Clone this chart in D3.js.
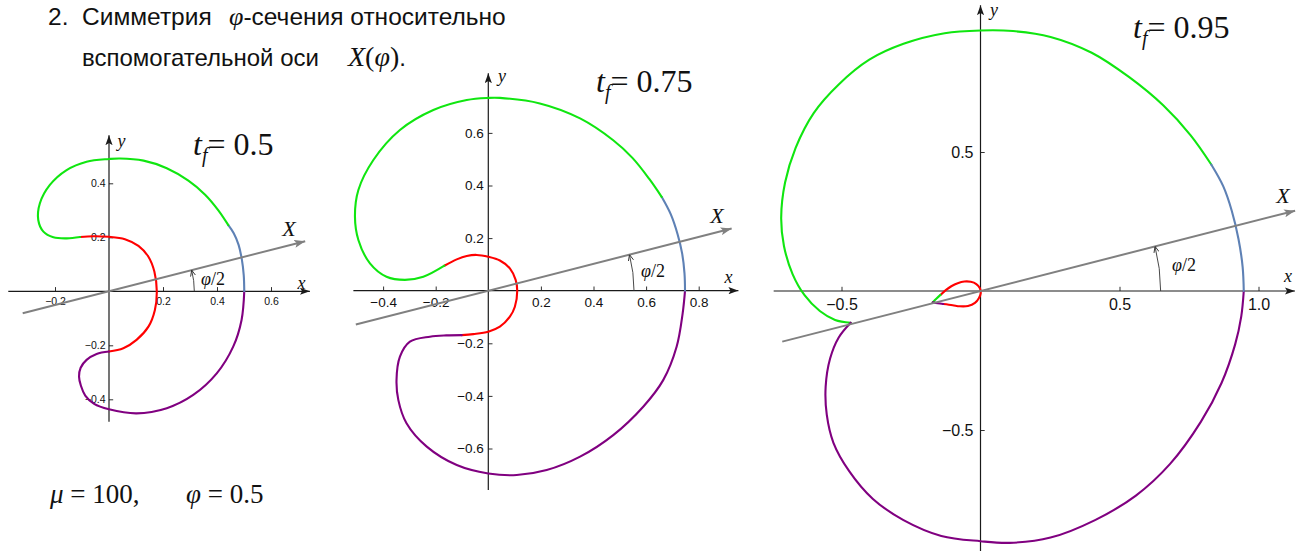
<!DOCTYPE html>
<html><head><meta charset="utf-8">
<script src="https://cdn.jsdelivr.net/npm/d3@7"></script>
<style>
html,body{margin:0;padding:0;background:#fff;}
svg{display:block;}
</style></head><body>
<svg id="chart" width="1296" height="551"></svg>
<script>
// ---- phi-section curves, sampled as (x, y), split by colour ----
// t_f = 0.5
const tf05Red = [[-0.107,0.201],[-0.058,0.204],[0,0.202],[0.059,0.193],[0.109,0.168],[0.146,0.128],[0.168,0.073],[0.177,0],[0.170,-0.069],[0.146,-0.131],[0.102,-0.180],[0.053,-0.211],[0,-0.223]];
const tf05Purple = [[0,-0.223],[-0.046,-0.232],[-0.083,-0.254],[-0.105,-0.283],[-0.111,-0.316],[-0.104,-0.350],[-0.088,-0.386],[-0.055,-0.417],[0,-0.437],[0.102,-0.452],[0.214,-0.433],[0.312,-0.384],[0.399,-0.304],[0.460,-0.205],[0.491,-0.106],[0.501,0]];
const tf05Blue = [[0.501,0],[0.499,0.060],[0.492,0.118],[0.480,0.172],[0.462,0.215],[0.442,0.245]];
const tf05Green = [[0.442,0.245],[0.405,0.300],[0.356,0.358],[0.294,0.410],[0.214,0.456],[0.128,0.484],[0.041,0.492],[0,0.490],[-0.083,0.480],[-0.157,0.449],[-0.219,0.394],[-0.256,0.326],[-0.262,0.264],[-0.243,0.221],[-0.206,0.200],[-0.156,0.196],[-0.107,0.201]];

// t_f = 0.75
const tf075Red = [[-0.167,0.095],[-0.120,0.119],[-0.082,0.132],[-0.044,0.136],[0,0.129],[0.044,0.115],[0.082,0.085],[0.104,0.041],[0.110,0],[0.101,-0.061],[0.082,-0.099],[0.044,-0.137],[0,-0.156],[-0.057,-0.165],[-0.101,-0.169]];
const tf075Purple = [[-0.101,-0.169],[-0.160,-0.170],[-0.222,-0.175],[-0.298,-0.194],[-0.336,-0.251],[-0.349,-0.340],[-0.342,-0.416],[-0.311,-0.504],[-0.234,-0.593],[-0.120,-0.663],[0,-0.695],[0.108,-0.701],[0.222,-0.682],[0.349,-0.631],[0.475,-0.549],[0.589,-0.441],[0.665,-0.340],[0.716,-0.213],[0.739,-0.086],[0.748,0]];
const tf075Blue = [[0.748,0],[0.746,0.066],[0.737,0.142],[0.720,0.214],[0.694,0.290],[0.659,0.357]];
const tf075Green = [[0.659,0.357],[0.612,0.425],[0.548,0.505],[0.475,0.572],[0.349,0.655],[0.196,0.712],[0.044,0.733],[0,0.733],[-0.082,0.725],[-0.209,0.687],[-0.336,0.611],[-0.437,0.497],[-0.494,0.383],[-0.507,0.281],[-0.494,0.193],[-0.450,0.104],[-0.387,0.053],[-0.317,0.041],[-0.247,0.053],[-0.167,0.095]];

// t_f = 0.95
const tf095Blue = [[0.947,0],[0.943,0.086],[0.928,0.187],[0.904,0.288],[0.873,0.377],[0.830,0.455]];
const tf095Green = [[0.830,0.455],[0.756,0.560],[0.658,0.667],[0.535,0.769],[0.400,0.857],[0.252,0.914],[0.117,0.935],[0,0.937],[-0.129,0.927],[-0.277,0.889],[-0.400,0.832],[-0.510,0.743],[-0.600,0.640],[-0.665,0.515],[-0.703,0.390],[-0.717,0.263],[-0.707,0.162],[-0.676,0.061],[-0.633,-0.015],[-0.578,-0.072],[-0.523,-0.104],[-0.467,-0.114]];
const tf095Purple = [[-0.467,-0.114],[-0.510,-0.167],[-0.541,-0.243],[-0.557,-0.344],[-0.553,-0.445],[-0.529,-0.546],[-0.473,-0.647],[-0.387,-0.748],[-0.277,-0.824],[-0.141,-0.881],[0,-0.900],[0.105,-0.906],[0.252,-0.887],[0.412,-0.824],[0.559,-0.736],[0.682,-0.622],[0.793,-0.470],[0.867,-0.331],[0.916,-0.192],[0.938,-0.091],[0.947,0]];
const tf095LoopGreen = [[-0.172,-0.041],[-0.158,-0.027],[-0.144,-0.014]];
const tf095LoopRed = [[-0.144,-0.014],[-0.125,0.003],[-0.105,0.017],[-0.082,0.028],[-0.058,0.034],[-0.035,0.033],[-0.015,0.025],[-0.002,0.010],[0.001,-0.008],[-0.006,-0.026],[-0.020,-0.043],[-0.045,-0.054],[-0.075,-0.055],[-0.100,-0.051],[-0.134,-0.047]];
const tf095LoopPurple = [[-0.134,-0.047],[-0.154,-0.044],[-0.172,-0.041]];

// tick labels
const tf05XTicks = [-0.2, 0.2, 0.4, 0.6];
const tf05YTicks = [-0.4, -0.2, 0.2, 0.4];
const tf075XTicks = [-0.4, -0.2, 0.2, 0.4, 0.6, 0.8];
const tf075YTicks = [-0.6, -0.4, -0.2, 0.2, 0.4, 0.6];
const tf095XTicks = [-0.5, 0.5, 1.0];
const tf095YTicks = [-0.5, 0.5];

// parameters
const tfLabels = ["0.5", "0.75", "0.95"];
const muValue = 100;
const phiValue = 0.5;

// ---- drawing ----
const COL = {red:"#ff0000", green:"#10e610", purple:"#800080", blue:"#5e81b5", gray:"#808080", axis:"#1a1a1a"};
const SERIF = "Liberation Serif";
const SANS = "Liberation Sans";

const panels = [
  {ox:109, oy:291.3, k:270, xr:[-0.373,0.744], yr:[-0.483,0.578], xt:tf05XTicks, yt:tf05YTicks, major:0.2, minor:0.05,
   fs:10.5, padX:6, padY:3.5,
   segs:[[tf05Red,"red"],[tf05Purple,"purple"],[tf05Blue,"blue"],[tf05Green,"green"]],
   line:[-0.33,0.75], arcR:0.316, tf:tfLabels[0], title:[193,155],
   xLab:[301.5,289], yLab:[121.5,147], XLab:[289,236], phiLab:[213,285], phiFs:18},
  {ox:488.3, oy:290.7, k:263, xr:[-0.513,0.951], yr:[-0.758,0.827], xt:tf075XTicks, yt:tf075YTicks, major:0.2, minor:0.05,
   fs:13.5, padX:7, padY:4.5,
   segs:[[tf075Red,"red"],[tf075Purple,"purple"],[tf075Blue,"blue"],[tf075Green,"green"]],
   line:[-0.52,0.955], arcR:0.554, tf:tfLabels[1], title:[596,92],
   xLab:[728.5,283], yLab:[502,82], XLab:[717,223], phiLab:[653,277], phiFs:18},
  {ox:980.5, oy:291, k:278, xr:[-0.744,1.131], yr:[-0.94,1.028], xt:tf095XTicks, yt:tf095YTicks, major:0.5, minor:0.1,
   fs:16, padX:8, padY:7,
   segs:[[tf095Green,"green"],[tf095Purple,"purple"],[tf095Blue,"blue"],[tf095LoopRed,"red"],[tf095LoopGreen,"green"],[tf095LoopPurple,"purple"]],
   line:[-0.736,1.168], arcR:0.648, tf:tfLabels[2], title:[1133,38],
   xLab:[1288,282], yLab:[994,16], XLab:[1283,203], phiLab:[1184,271], phiFs:18}
];

const svg = d3.select("#chart");
svg.append("rect").attr("width",1296).attr("height",551).attr("fill","#fff");

const defs = svg.append("defs");
function headMarker(id, color, len, half){
  defs.append("marker").attr("id",id).attr("markerUnits","userSpaceOnUse")
    .attr("viewBox",`0 0 ${len} ${half*2}`).attr("markerWidth",len).attr("markerHeight",half*2)
    .attr("refX",len).attr("refY",half).attr("orient","auto")
    .append("path").attr("d",`M0,0 L${len},${half} L0,${half*2} L${len*0.22},${half} Z`).attr("fill",color);
}
headMarker("headAxis", COL.axis, 10, 3.6);
headMarker("headGray", COL.gray, 11, 4);
defs.append("marker").attr("id","headOpen").attr("markerUnits","userSpaceOnUse")
  .attr("viewBox","0 0 6 6").attr("markerWidth",6).attr("markerHeight",6)
  .attr("refX",6).attr("refY",3).attr("orient","auto")
  .append("path").attr("d","M0,0.4 L6,3 L0,5.6").attr("fill","none").attr("stroke","#333").attr("stroke-width",0.9);

const half = phiValue / 2;
const fmt = d3.format(".1f");

function serifText(sel, x, y, size){
  return sel.append("text").attr("x",x).attr("y",y).style("font-family",SERIF).style("font-size",size+"px").attr("fill","#111");
}

panels.forEach(p => {
  const x = d3.scaleLinear().domain([0,1]).range([p.ox, p.ox + p.k]);
  const y = d3.scaleLinear().domain([0,1]).range([p.oy, p.oy - p.k]);
  const g = svg.append("g");

  // minor tick positions
  const isMajor = v => Math.abs(v/p.major - Math.round(v/p.major)) < 1e-6;
  const minorX = d3.range(Math.ceil(p.xr[0]/p.minor), Math.floor((p.xr[1]-0.04)/p.minor)+1).map(i=>+(i*p.minor).toFixed(3)).filter(v=>!isMajor(v));
  const minorY = d3.range(Math.ceil((p.yr[0]+0.01)/p.minor), Math.floor((p.yr[1]-0.04)/p.minor)+1).map(i=>+(i*p.minor).toFixed(3)).filter(v=>!isMajor(v));

  // x axis ticks (pointing up) with labels below
  const gx = g.append("g").attr("transform",`translate(0,${p.oy})`);
  gx.call(d3.axisBottom(x).tickValues(minorX).tickSize(-2.2).tickFormat(""));
  gx.call(d3.axisBottom(x).tickValues(p.xt).tickSize(-4.2).tickPadding(p.padX).tickFormat(fmt));
  const gy = g.append("g").attr("transform",`translate(${p.ox},0)`);
  gy.call(d3.axisLeft(y).tickValues(minorY).tickSize(-2.2).tickFormat(""));
  gy.call(d3.axisLeft(y).tickValues(p.yt).tickSize(-4.2).tickPadding(p.padY).tickFormat(fmt));
  g.selectAll(".domain").remove();
  g.selectAll(".tick line").attr("stroke",COL.axis).attr("stroke-width",0.9);
  g.selectAll(".tick text").style("font-family",SANS).style("font-size",p.fs+"px").attr("fill","#111");

  // axis lines with arrowheads
  g.append("line").attr("x1",x(p.xr[0])).attr("x2",x(p.xr[1])).attr("y1",y(0)).attr("y2",y(0))
    .attr("stroke",COL.axis).attr("stroke-width",1.2).attr("marker-end","url(#headAxis)");
  g.append("line").attr("x1",x(0)).attr("x2",x(0)).attr("y1",y(p.yr[0])).attr("y2",y(p.yr[1]))
    .attr("stroke",COL.axis).attr("stroke-width",1.2).attr("marker-end","url(#headAxis)");

  // curve segments
  const line = d3.line().x(d=>x(d[0])).y(d=>y(d[1])).curve(d3.curveCatmullRom.alpha(0.5));
  p.segs.forEach(([data, c]) => {
    g.append("path").attr("d", line(data)).attr("fill","none")
      .attr("stroke", COL[c]).attr("stroke-width", 2.1).attr("stroke-linecap","round");
  });

  // auxiliary axis X at angle phi/2
  const cx = Math.cos(half), sn = Math.sin(half);
  g.append("line")
    .attr("x1", x(p.line[0]*cx)).attr("y1", y(p.line[0]*sn))
    .attr("x2", x(p.line[1]*cx)).attr("y2", y(p.line[1]*sn))
    .attr("stroke", COL.gray).attr("stroke-width", 2).attr("marker-end","url(#headGray)");

  // angle marker phi/2
  const ap = d3.path();
  ap.arc(x(0), y(0), p.arcR * p.k, 0, -half, true);
  g.append("path").attr("d", ap.toString()).attr("fill","none").attr("stroke","#333")
    .attr("stroke-width",0.9).attr("marker-end","url(#headOpen)");

  const phiT = serifText(g, p.phiLab[0], p.phiLab[1], p.phiFs).attr("text-anchor","middle");
  phiT.append("tspan").style("font-style","italic").text("φ");
  phiT.append("tspan").text("/2");

  // axis names
  serifText(g, p.xLab[0], p.xLab[1], 18).attr("text-anchor","middle").style("font-style","italic").text("x");
  serifText(g, p.yLab[0], p.yLab[1], 18).attr("text-anchor","middle").style("font-style","italic").text("y");
  serifText(g, p.XLab[0], p.XLab[1], 22).attr("text-anchor","middle").style("font-style","italic").text("X");

  // title t_f = ...
  const t = serifText(g, p.title[0], p.title[1], 32);
  t.append("tspan").style("font-style","italic").text("t");
  t.append("tspan").style("font-style","italic").style("font-size","20px").attr("dy",7).text("f");
  t.append("tspan").attr("dy",-7).text("= " + p.tf);
});

// heading
const h1 = svg.append("text").attr("y",25).style("font-family",SANS).style("font-size","24.5px").attr("fill","#111");
h1.append("tspan").attr("x",48).text("2.");
h1.append("tspan").attr("x",82).text("Симметрия");
h1.append("tspan").attr("x",229).style("font-family",SERIF).style("font-style","italic").style("font-size","26px").text("φ");
h1.append("tspan").text("-сечения относительно");

const h2 = svg.append("text").attr("y",66).style("font-family",SANS).style("font-size","24px").attr("fill","#111");
h2.append("tspan").attr("x",82).text("вспомогательной оси");
h2.append("tspan").attr("x",348).style("font-family",SERIF).style("font-style","italic").style("font-size","28px").text("X");
h2.append("tspan").style("font-family",SERIF).style("font-size","28px").text("(");
h2.append("tspan").style("font-family",SERIF).style("font-style","italic").style("font-size","28px").text("φ");
h2.append("tspan").style("font-family",SERIF).style("font-size","28px").text(")");
h2.append("tspan").text(".");

// parameter line
const pl = serifText(svg, 50, 503, 27);
pl.append("tspan").style("font-style","italic").text("μ");
pl.append("tspan").text(" = " + muValue + ",");
pl.append("tspan").attr("x",186).style("font-style","italic").text("φ");
pl.append("tspan").text(" = " + phiValue);
</script>
</body></html>
